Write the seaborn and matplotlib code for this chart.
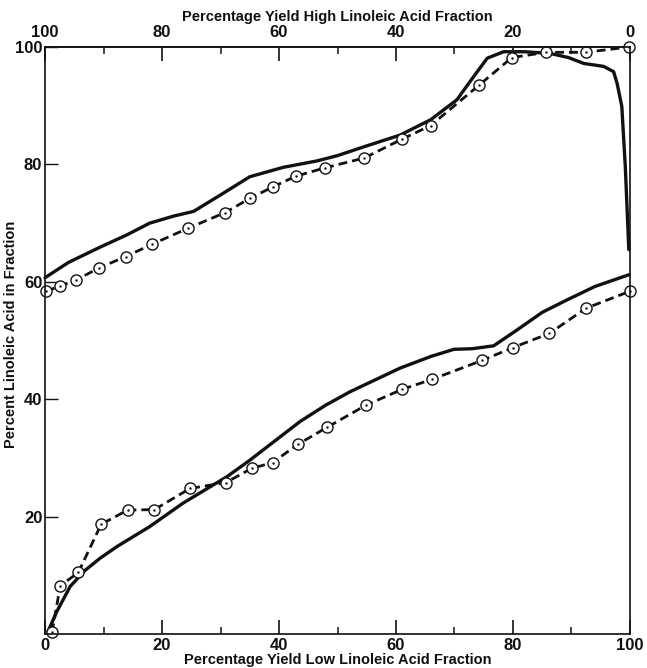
import matplotlib
matplotlib.use("Agg")
import matplotlib.pyplot as plt
from matplotlib.ticker import MultipleLocator, FixedLocator
import seaborn as sns
import pandas as pd

# ---- data ----
upper_solid_x = [0, 4, 9.4, 14, 17.9, 22, 25.4, 30, 35.0, 40.7, 46.5, 50, 54.5, 60.7, 65.9, 70.4, 73.3, 75.6, 78.4, 82, 86.4, 89.5, 92.1, 95.5, 97.2, 97.8, 98.6, 99.2, 99.8]
upper_solid_y = [60.7, 63.3, 65.9, 68.0, 70.0, 71.2, 72.0, 74.8, 77.9, 79.5, 80.6, 81.5, 83.0, 85.0, 87.6, 91.0, 95.0, 98.1, 99.2, 99.2, 98.9, 98.2, 97.2, 96.7, 95.8, 93.8, 89.9, 79.6, 65.5]

upper_dash_x = [0.2, 2.6, 5.3, 9.3, 13.8, 18.3, 24.4, 30.8, 35.0, 39.0, 42.9, 47.8, 54.6, 61.0, 65.9, 74.2, 79.8, 85.7, 92.4, 99.8]
upper_dash_y = [58.4, 59.3, 60.3, 62.4, 64.3, 66.4, 69.1, 71.8, 74.2, 76.2, 78.0, 79.4, 81.1, 84.3, 86.6, 93.5, 98.2, 99.1, 99.1, 100.0]

lower_solid_x = [0.5, 2.0, 4.3, 6.8, 9.4, 12.3, 17.9, 23.6, 31.1, 35.0, 43.6, 48.0, 52.2, 60.7, 66.0, 69.9, 73.0, 76.7, 80.7, 85.0, 89.2, 94.0, 99.8]
lower_solid_y = [0.4, 3.8, 8.1, 10.8, 12.9, 14.9, 18.3, 22.3, 26.8, 29.6, 36.2, 39.0, 41.3, 45.3, 47.3, 48.5, 48.6, 49.1, 51.8, 54.8, 56.9, 59.2, 61.2]

lower_dash_x = [1.2, 2.6, 5.7, 9.6, 14.1, 18.7, 24.8, 30.9, 35.3, 38.9, 43.2, 48.2, 54.9, 61.1, 66.2, 74.7, 80.0, 86.2, 92.5, 100.0]
lower_dash_y = [0.3, 8.2, 10.5, 18.7, 21.1, 21.2, 24.8, 25.8, 28.2, 29.2, 32.3, 35.2, 39.0, 41.7, 43.4, 46.6, 48.8, 51.2, 55.5, 58.4]

x_ticks = [0, 20, 40, 60, 80, 100]
y_ticks = [20, 40, 60, 80, 100]

sns.set_theme(style="white")
plt.rcParams['font.family'] = ['Liberation Sans', 'DejaVu Sans']
plt.rcParams['font.weight'] = 'bold'

fig = plt.figure(figsize=(6.47, 6.68), dpi=100)
ax = fig.add_axes([0.0696, 0.0509, 0.9041, 0.8787])

ink = "#111111"

def solid(xs, ys):
    df = pd.DataFrame({"x": xs, "y": ys})
    sns.lineplot(data=df, x="x", y="y", ax=ax, sort=False, color=ink,
                 linewidth=2.4, estimator=None, clip_on=False)

def dashed(xs, ys):
    df = pd.DataFrame({"x": xs, "y": ys})
    sns.lineplot(data=df, x="x", y="y", ax=ax, sort=False, color=ink,
                 linewidth=2.0, estimator=None, dashes=False, linestyle=(0, (3.2, 1.8)),
                 marker="o", markersize=8, markerfacecolor="white",
                 markeredgecolor=ink, markeredgewidth=1.0, clip_on=False)
    sns.scatterplot(data=df, x="x", y="y", ax=ax, color=ink, s=3, linewidth=0,
                    zorder=5, clip_on=False)

solid(upper_solid_x, upper_solid_y)
dashed(upper_dash_x, upper_dash_y)
solid(lower_solid_x, lower_solid_y)
dashed(lower_dash_x, lower_dash_y)

ax.set_xlim(0, 100)
ax.set_ylim(0, 100)

ax.xaxis.set_major_locator(FixedLocator(x_ticks))
ax.xaxis.set_minor_locator(MultipleLocator(10))
ax.yaxis.set_major_locator(FixedLocator(y_ticks))
ax.yaxis.set_minor_locator(FixedLocator([]))
ax.set_xticklabels([str(v) for v in x_ticks])
ax.set_yticklabels([str(v) for v in y_ticks])

ax.tick_params(axis="x", which="major", direction="in", length=10, width=1.2,
               labelsize=12, pad=3, colors=ink, bottom=True)
ax.tick_params(axis="x", which="minor", direction="in", length=5, width=1.2, bottom=True)
ax.tick_params(axis="y", which="major", direction="in", length=9, width=1.0,
               labelsize=12, pad=2, colors=ink, left=True)

for s in ax.spines.values():
    s.set_color(ink)
    s.set_linewidth(1.2)

ax.set_xlabel("Percentage Yield Low Linoleic Acid Fraction", fontsize=10.5,
              fontweight="bold", color=ink, va="center")
ax.xaxis.set_label_coords(0.5, -0.044)
ax.set_ylabel("Percent Linoleic Acid in Fraction", fontsize=10.5,
              fontweight="bold", color=ink)
ax.yaxis.set_label_coords(-0.046, 0.51)

sec = ax.secondary_xaxis("top", functions=(lambda v: 100 - v, lambda v: 100 - v))
sec.xaxis.set_major_locator(FixedLocator(x_ticks))
sec.xaxis.set_minor_locator(MultipleLocator(10))
sec.set_xticklabels([str(v) for v in x_ticks])
sec.tick_params(axis="x", which="major", direction="in", length=10, width=1.2,
                labelsize=12, pad=5, colors=ink)
sec.tick_params(axis="x", which="minor", direction="in", length=5, width=1.2)
sec.set_xlabel("Percentage Yield High Linoleic Acid Fraction", fontsize=10.5,
               fontweight="bold", labelpad=3, color=ink)

fig.savefig("out.png", dpi=100, facecolor="white")
